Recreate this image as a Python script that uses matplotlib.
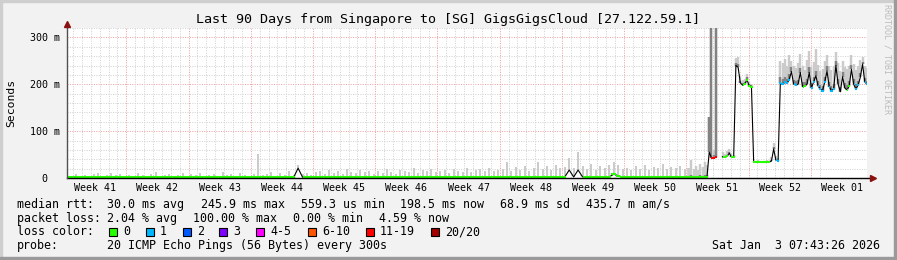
import numpy as np
import matplotlib
matplotlib.use("Agg")
import matplotlib.pyplot as plt
from matplotlib.patches import Rectangle
from matplotlib.collections import LineCollection

W, H = 897, 260
MONO = "DejaVu Sans Mono"

# ---------------- data ----------------
title = "Last 90 Days from Singapore to [SG] GigsGigsCloud [27.122.59.1]"
week_labels = ["Week 41", "Week 42", "Week 43", "Week 44", "Week 45", "Week 46",
               "Week 47", "Week 48", "Week 49", "Week 50", "Week 51", "Week 52", "Week 01"]
ytick_values = [0, 100, 200, 300]
ytick_labels = ["0  ", "100 m", "200 m", "300 m"]
y_max = 320
days_shown = 90
# time of the last Sunday 00:00 before the graph end (days, end of graph = 0)
last_week_start = -6.322

# loss classes (upper bound of pings lost), colours and labels
loss_bounds = [0, 1, 2, 3, 5, 10, 19, 20]
loss_colors = ["#26ff00", "#00b8ff", "#0059ff", "#7e00ff", "#ff00ff", "#ff5500", "#ff0000", "#a10000"]
loss_labels = ["0", "1", "2", "3", "4-5", "6-10", "11-19", "20/20"]

# period A: -90 .. -20.5 days, every 12 h ; period B: -20 .. 0 days, every 6 h
t_a = np.arange(-90.0, -20.0, 0.5)
t_b = np.arange(-20.0, 0.001, 0.25)

median_a = [1.6, 1.5, 1.7, 1.5, 1.6, 1.4, 1.5, 1.8, 1.5, 1.6, 1.7, 1.5, 1.6, 1.4,
            1.5, 1.6, 1.8, 1.5, 1.4, 1.6, 1.9, 1.5, 1.6, 1.7, 1.4, 1.5, 1.8, 1.5,
            1.6, 1.5, 1.9, 1.4, 1.6, 1.7, 1.5, 2.0, 1.5, 1.6, 1.4, 1.8, 1.6, 1.5,
            1.7, 2.4, 1.5, 1.6, 1.9, 1.5, 1.8, 1.6, 2.0, 1.5, 21.0, 1.7, 1.8, 1.6,
            1.8, 2.0, 1.6, 2.1, 1.7, 1.9, 1.5, 2.2, 1.8, 1.6, 2.0, 1.7, 1.9, 1.6,
            1.9, 1.7, 2.1, 1.8, 1.6, 2.0, 1.8, 1.7, 2.2, 1.6, 1.9, 1.8, 2.1, 1.7,
            1.8, 2.0, 1.7, 2.2, 1.9, 1.8, 2.3, 1.7, 2.0, 2.1, 1.8, 2.2, 1.9, 2.0,
            2.1, 2.6, 1.9, 2.3, 2.0, 2.4, 1.8, 2.2, 2.7, 2.0, 2.3, 1.9, 2.5, 2.1,
            2.3, 17.0, 2.2, 17.0, 2.4, 2.1, 2.6, 2.0, 2.3, 2.2, 2.4, 8.0, 5.0, 2.0,
            2.2, 1.9, 2.3, 2.1, 2.5, 1.9, 2.2, 2.1, 2.6, 2.0, 2.3, 2.1, 2.4, 2.0]
loss_a = [0] * 52 + [3] + [0] * 60 + [2, 0, 1] + [0] * 24
smoke_a = [6, 4, 9, 5, 7, 3, 8, 10, 5, 7, 11, 6, 9, 4,
           7, 5, 10, 6, 4, 8, 12, 5, 7, 9, 4, 6, 10, 5,
           8, 6, 11, 4, 7, 9, 5, 12, 6, 8, 4, 10, 7, 5,
           9, 51, 6, 8, 12, 5, 10, 7, 14, 6, 28, 9, 11, 7,
           12, 16, 9, 18, 11, 14, 8, 19, 13, 10, 17, 12, 15, 9,
           16, 11, 20, 13, 9, 18, 14, 12, 21, 10, 17, 15, 19, 12,
           14, 18, 11, 20, 16, 13, 22, 12, 17, 19, 14, 21, 15, 18,
           20, 34, 16, 24, 18, 26, 15, 22, 34, 19, 25, 17, 28, 21,
           24, 43, 22, 55, 26, 20, 30, 18, 25, 22, 27, 34, 28, 19,
           22, 18, 25, 20, 27, 17, 23, 21, 29, 19, 24, 22, 26, 20]

nan = float("nan")
median_b = [1.8, 2.0, 1.7, 2.2, 1.9, 2.4, 2.0, 2.3, 3.0,
            55, 43, 43, 44, nan, nan,
            45, 44, 46, 53, 45, 44,
            240, 236, 203, 198, 200, 210, 196, 195,
            34, 34, 34, 34, 34, 34, 34, 34,
            36, 62, 38, 37, 203,
            200, 204, 202, 210, 227, 200, 198, 200, 225, 195, 196, 200, 225, 192, 205,
            218, 196, 190, 186, 205, 228, 195, 186, 190, 240, 200, 184, 216, 192, 188,
            196, 232, 200, 190, 198, 215, 243, 205, 200]
loss_b = [0, 0, 0, 0, 0, 0, 0, 0, 0,
          8, 15, 15, 15, 0, 0,
          0, 0, 0, 1, 0, 0,
          1, 0, 4, 0, 0, 0, 0, 0,
          0, 0, 0, 0, 0, 0, 0, 0,
          1, 0, 1, 1, 1,
          1, 1, 1, 1, 0, 1, 1, 0, 2, 0, 0, 1, 2, 1, 1,
          0, 1, 1, 1, 1, 0, 1, 1, 1, 2, 1, 0, 2, 1, 0,
          0, 2, 1, 1, 1, 2, 4, 1, 1]
smoke_b = [22, 38, 20, 26, 18, 30, 24, 35, 28,
           130, 400, 60, 400, nan, nan,
           55, 52, 58, 62, 54, 50,
           255, 259, 218, 210, 212, 222, 205, 200,
           37, 36, 38, 36, 37, 36, 38, 37,
           45, 75, 48, 42, 250,
           245, 253, 240, 262, 250, 238, 235, 245, 265, 240, 230, 252, 270, 236, 248,
           275, 242, 228, 232, 250, 262, 238, 230, 240, 268, 245, 228, 250, 236, 232,
           240, 262, 244, 230, 238, 252, 258, 240, 235]
smoke_dark_b = [4, 6, 4, 5, 4, 6, 5, 6, 7,
                130, 400, 50, 400, nan, nan,
                48, 47, 49, 56, 48, 46,
                246, 244, 208, 203, 205, 215, 200, 198,
                35, 35, 35, 35, 35, 35, 35, 35,
                38, 66, 40, 39, 215,
                212, 216, 212, 222, 236, 210, 206, 210, 234, 205, 204, 212, 236, 202, 216,
                228, 206, 198, 196, 215, 238, 205, 196, 200, 250, 212, 194, 226, 202, 198,
                206, 242, 212, 200, 208, 225, 248, 214, 208]

legend_rtt = ["median rtt:", "30.0 ms avg", "245.9 ms max", "559.3 us min",
              "198.5 ms now", "68.9 ms sd", "435.7 m am/s"]
legend_loss = ["packet loss:", "2.04 % avg", "100.00 % max", "0.00 % min", "4.59 % now"]
legend_probe = ["probe:", "20 ICMP Echo Pings (56 Bytes) every 300s"]
legend_color_title = "loss color:"
timestamp = "Sat Jan  3 07:43:26 2026"
y_label = "Seconds"
watermark = "RRDTOOL / TOBI OETIKER"

# ---------------- figure ----------------
fig = plt.figure(figsize=(W / 100, H / 100), dpi=100)
fig.patch.set_facecolor("#f2f2f2")

def fx(x):
    return x / W

def fy(y):
    return 1 - y / H

# 3D frame
fig.patches.append(Rectangle((0, fy(2)), 1, 2 / H, transform=fig.transFigure, color="#cfcfcf", zorder=0))
fig.patches.append(Rectangle((0, 0), 2 / W, 1, transform=fig.transFigure, color="#cfcfcf", zorder=0))
fig.patches.append(Rectangle((0, 0), 1, 3 / H, transform=fig.transFigure, color="#9a9a9a", zorder=0))
fig.patches.append(Rectangle((1 - 3 / W, 0), 3 / W, 1, transform=fig.transFigure, color="#9a9a9a", zorder=0))

ax = fig.add_axes([fx(67), (H - 178) / H, 800 / W, 150 / H])
ax.set_facecolor("white")
ax.set_xlim(-days_shown, 0)
ax.set_ylim(0, y_max)
for s in ax.spines.values():
    s.set_visible(False)

# grid
dot = (0, (1, 1.4))
minor_c, major_c = "#d2d2d2", "#f2a0a0"
for yv in range(20, y_max + 1, 20):
    ax.axhline(yv, color=major_c if yv % 100 == 0 else minor_c, lw=0.72, ls=dot, zorder=1)
k = 0
while last_week_start - k > -days_shown:
    d = last_week_start - k
    ax.axvline(d, color=major_c if k % 7 == 0 else minor_c, lw=0.72, ls=dot, zorder=1)
    k += 1
if last_week_start + 1 < 0:
    ax.axvline(last_week_start + 1, color=minor_c, lw=0.72, ls=dot, zorder=1)

# combine series
t = np.concatenate([t_a, t_b])
med = np.array(median_a + median_b, dtype=float)
loss = np.array(loss_a + loss_b, dtype=float)
smoke = np.array(smoke_a + smoke_b, dtype=float)
dark = np.concatenate([np.full(len(t_a), np.nan), np.array(smoke_dark_b, dtype=float)])

steps = np.gradient(t)
px_per_day = 800 / days_shown
lw_smoke = np.where(steps < 0.4, steps * px_per_day * 1.1, 2.0) * 0.72

ok = ~np.isnan(med) & ~np.isnan(smoke)
ax.vlines(t[ok], med[ok], smoke[ok], colors="#cbcbcb", linewidths=lw_smoke[ok], zorder=2)
okd = ok & ~np.isnan(dark)
ax.vlines(t[okd], med[okd], dark[okd], colors="#828282", linewidths=lw_smoke[okd], zorder=2.5)

# median line (black) and loss-coloured runs
ax.plot(t, med, color="black", lw=0.8, zorder=3)
cls = np.array([next(j for j, b in enumerate(loss_bounds) if lv <= b) for lv in loss])
mids = (t[:-1] + t[1:]) / 2
left = np.concatenate([[t[0]], mids])
right = np.concatenate([mids, [t[-1]]])
segs, cols = [], []
n = len(t)
for i in range(n):
    if np.isnan(med[i]):
        continue
    same_prev = i > 0 and not np.isnan(med[i - 1]) and cls[i - 1] == cls[i]
    same_next = i < n - 1 and not np.isnan(med[i + 1]) and cls[i + 1] == cls[i]
    if same_prev or same_next:
        lo = left[i] if same_prev else t[i]
        hi = right[i] if same_next else t[i] + 0.12
        segs.append([(lo, med[i]), (hi, med[i])])
        cols.append(loss_colors[cls[i]])
ax.add_collection(LineCollection(segs, colors=cols, linewidths=1.5, zorder=4, capstyle="butt"))

# axes lines and arrows
ax.plot([0, 1.007], [0, 0], transform=ax.transAxes, color="black", lw=1.0, clip_on=False, zorder=6)
ax.plot([0, 0], [0, 1.02], transform=ax.transAxes, color="#505050", lw=1.0, clip_on=False, zorder=6)
ax.plot([1.008], [0], marker=">", ms=4.2, color="#8b1010", transform=ax.transAxes, clip_on=False, zorder=7)
ax.plot([0], [1.025], marker="^", ms=4.2, color="#8b1010", transform=ax.transAxes, clip_on=False, zorder=7)

# ticks
week_centers = [last_week_start + 3.5 - 7 * k for k in range(len(week_labels) - 1, -1, -1)]
ax.set_xticks(week_centers)
ax.set_xticklabels(week_labels, fontsize=7.2, family=MONO)
ax.set_yticks(ytick_values)
ax.set_yticklabels(ytick_labels, fontsize=7.2, family=MONO)
ax.tick_params(axis="x", length=0, pad=3.5)
ax.tick_params(axis="y", length=0, pad=5)

# texts
fig.text(fx(448), fy(19), title, ha="center", va="center", fontsize=9.6, family=MONO)
fig.text(fx(11), fy(103), y_label, ha="center", va="center", rotation=90, fontsize=8.2, family=MONO)
fig.text(fx(887), fy(4), watermark, ha="center", va="top", rotation=-90, fontsize=6.0,
         family=MONO, color="#bcbcbc")

fs = 8.4
rtt_x = [16.7, 107.3, 200.7, 300.7, 400, 500, 586]
for s, x in zip(legend_rtt, rtt_x):
    fig.text(fx(x), fy(204.3), s, ha="left", va="center", fontsize=fs, family=MONO)
loss_x = [16.7, 107.3, 193.3, 293.3, 379.3]
for s, x in zip(legend_loss, loss_x):
    fig.text(fx(x), fy(218.3), s, ha="left", va="center", fontsize=fs, family=MONO)
fig.text(fx(16.7), fy(231.7), legend_color_title, ha="left", va="center", fontsize=fs, family=MONO)
box_x = [109.3, 146, 182.7, 219.3, 256, 308, 365.7, 430.7]
for s, c, x in zip(loss_labels, loss_colors, box_x):
    fig.patches.append(Rectangle((fx(x), fy(236)), 8 / W, 8 / H, transform=fig.transFigure,
                                 facecolor=c, edgecolor="black", lw=0.8, zorder=3))
    fig.text(fx(x + 14), fy(231.7), s, ha="left", va="center", fontsize=fs, family=MONO)
probe_x = [16.7, 107.3]
for s, x in zip(legend_probe, probe_x):
    fig.text(fx(x), fy(245.7), s, ha="left", va="center", fontsize=fs, family=MONO)
fig.text(fx(880), fy(245.7), timestamp, ha="right", va="center", fontsize=fs, family=MONO)

fig.savefig("out.png", dpi=100, facecolor=fig.get_facecolor())
